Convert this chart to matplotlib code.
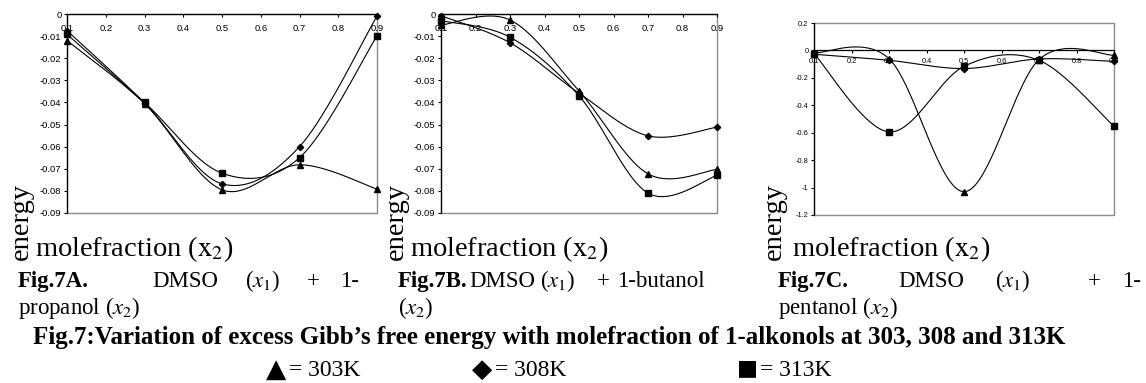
import numpy as np
import matplotlib
matplotlib.use("Agg")
import matplotlib.pyplot as plt
from matplotlib.patches import Rectangle

plt.rcParams['font.family'] = ['Liberation Serif', 'DejaVu Sans']
plt.rcParams['mathtext.fontset'] = 'stix'

W, H = 1146, 383

x2 = [0.1, 0.3, 0.5, 0.7, 0.9]
x_ticks = [0.1, 0.2, 0.3, 0.4, 0.5, 0.6, 0.7, 0.8, 0.9]
x_tick_labels = ["0.1", "0.2", "0.3", "0.4", "0.5", "0.6", "0.7", "0.8", "0.9"]

# Fig.7A DMSO + 1-propanol
a_303 = [-0.0120, -0.0405, -0.0795, -0.0682, -0.0792]
a_308 = [-0.0075, -0.0402, -0.0768, -0.0600, -0.0009]
a_313 = [-0.0092, -0.0400, -0.0720, -0.0650, -0.0099]
a_yticks = [0, -0.01, -0.02, -0.03, -0.04, -0.05, -0.06, -0.07, -0.08, -0.09]

# Fig.7B DMSO + 1-butanol
b_303 = [-0.0050, -0.0027, -0.0348, -0.0723, -0.0703]
b_308 = [-0.0008, -0.0130, -0.0358, -0.0551, -0.0512]
b_313 = [-0.0030, -0.0105, -0.0370, -0.0810, -0.0730]
b_yticks = a_yticks

# Fig.7C DMSO + 1-pentanol
c_303 = [-0.018, -0.060, -1.030, -0.067, -0.035]
c_308 = [-0.028, -0.072, -0.132, -0.062, -0.080]
c_313 = [-0.023, -0.594, -0.116, -0.072, -0.553]
c_yticks = [0.2, 0, -0.2, -0.4, -0.6, -0.8, -1.0, -1.2]


def smooth(xs, ys, n=40):
    # excel-like smoothed line (bezier with 1/6 tangents)
    p = np.column_stack([xs, ys])
    ext = np.vstack([p[0], p, p[-1]])
    t = np.linspace(0, 1, n)[:, None]
    segs = []
    for i in range(len(p) - 1):
        p0, p3 = p[i], p[i + 1]
        c1 = p0 + (ext[i + 2] - ext[i]) / 6
        c2 = p3 - (ext[i + 3] - ext[i + 1]) / 6
        segs.append((1 - t)**3 * p0 + 3 * (1 - t)**2 * t * c1
                    + 3 * (1 - t) * t**2 * c2 + t**3 * p3)
    s = np.vstack(segs)
    return s[:, 0], s[:, 1]


def fmt(v):
    v = round(v, 4)
    if v == 0:
        return "0"
    return f"{v:g}"


def box(l, t, r, b):
    return [l / W, 1 - b / H, (r - l) / W, (b - t) / H]


fig = plt.figure(figsize=(W / 100, H / 100), dpi=100)


def panel(rect, series, yticks, fs, xlen, xpad):
    ax = fig.add_axes(rect)
    for ys, m, ms in zip(series, ['^', 'D', 's'], [4.2, 3.2, 3.8]):
        sx, sy = smooth(x2, ys)
        ax.plot(sx, sy, color='black', lw=0.8)
        ax.plot(x2, ys, ls='none', marker=m, ms=ms, color='black', clip_on=False, zorder=4)
    ax.set_xlim(0.1, 0.9)
    ax.set_ylim(min(yticks), max(yticks))
    ax.spines['top'].set_visible(False)
    ax.spines['right'].set_visible(False)
    ax.spines['bottom'].set_position(('data', 0))
    ax.spines['bottom'].set_linewidth(0.9)
    ax.spines['left'].set_linewidth(0.9)
    ax.add_patch(Rectangle((0, 0), 1, 1, transform=ax.transAxes, fill=False,
                           ec='#8a8a8a', lw=1.0, zorder=0.5, clip_on=False))
    ax.set_xticks(x_ticks)
    ax.set_xticklabels(x_tick_labels)
    ax.set_yticks(yticks)
    ax.set_yticklabels([fmt(v) for v in yticks])
    ax.tick_params(axis='y', direction='out', length=2.5, width=0.8, pad=1.5,
                   labelsize=fs, labelfontfamily='Liberation Sans')
    ax.tick_params(axis='x', direction='out', length=xlen, width=0.8, pad=xpad,
                   labelsize=fs, labelfontfamily='Liberation Sans')
    return ax


panel(box(67, 14, 377, 213), [a_303, a_308, a_313], a_yticks, 6.8, 2, 5)
panel(box(441, 14, 717, 213), [b_303, b_308, b_313], b_yticks, 6.8, 2, 5)
panel(box(814, 23, 1114, 215), [c_303, c_308, c_313], c_yticks, 5.3, 2, 3.5)


def txt(x, y, s, **kw):
    fig.text(x / W, 1 - y / H, s, **kw)


# cropped axis titles
for ex, mx in [(34, 35), (409, 410), (787, 792)]:
    txt(ex, 260, "energy", rotation=90, ha='right', va='bottom', fontsize=20.5)
    txt(mx, 256, r"molefraction ($\mathrm{x}_2$)", ha='left', va='baseline', fontsize=20.5)

cap = dict(va='baseline', fontsize=16.5)
x1 = r"($x_\mathit{1}$)"
x2s = r"($x_\mathit{2}$)"
y1, y2 = 287, 314

txt(18, y1, "Fig.7A.", fontweight='bold', **cap)
txt(152, y1, "DMSO", **cap)
txt(245, y1, x1, **cap)
txt(307, y1, "+", **cap)
txt(340, y1, "1-", **cap)
txt(18, y2, "propanol " + x2s, **cap)

txt(398, y1, "Fig.7B.", fontweight='bold', **cap)
txt(469, y1, "DMSO", **cap)
txt(540, y1, x1, **cap)
txt(597, y1, "+", **cap)
txt(617, y1, "1-butanol", **cap)
txt(398, y2, x2s, **cap)

txt(778, y1, "Fig.7C.", fontweight='bold', **cap)
txt(898, y1, "DMSO", **cap)
txt(995, y1, x1, **cap)
txt(1088, y1, "+", **cap)
txt(1122, y1, "1-", **cap)
txt(778, y2, "pentanol " + x2s, **cap)

txt(549, 344, "Fig.7:Variation of excess Gibb\u2019s free energy with molefraction of 1-alkonols at 303, 308 and 313K",
    ha='center', va='baseline', fontsize=18, fontweight='bold')

# key line: symbol glyph drawn a bit larger than the text
keys = [(266, "\u25b2", "= 303K", 19, 377), (472, "\u25c6", "= 308K", 19, 377), (737, "\u25a0", "= 313K", 16, 374)]
for kx, sym, lab, sz, ky in keys:
    txt(kx, ky, sym, va='baseline', fontsize=sz, family='DejaVu Sans')
    txt(kx + 23, 376, lab, va='baseline', fontsize=17)

fig.savefig("out.png", dpi=100)
